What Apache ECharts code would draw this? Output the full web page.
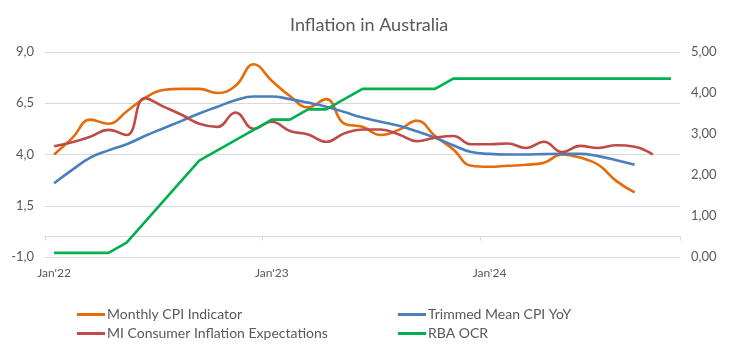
<!DOCTYPE html>
<html><head><meta charset="utf-8">
<script src="https://cdn.jsdelivr.net/npm/echarts@6/dist/echarts.min.js"></script>
<style>html,body{margin:0;padding:0;background:#fff}#c{width:747px;height:360px}</style>
</head><body><div id="c"></div>
<script>
const categories = ["Jan'22","Feb'22","Mar'22","Apr'22","May'22","Jun'22","Jul'22","Aug'22","Sep'22","Oct'22","Nov'22","Dec'22",
"Jan'23","Feb'23","Mar'23","Apr'23","May'23","Jun'23","Jul'23","Aug'23","Sep'23","Oct'23","Nov'23","Dec'23",
"Jan'24","Feb'24","Mar'24","Apr'24","May'24","Jun'24","Jul'24","Aug'24","Sep'24","Oct'24","Nov'24"];
const monthlyCPI = [4.0,4.8,5.7,5.5,6.1,6.75,7.15,7.2,7.2,7.0,7.35,8.4,7.6,6.85,6.3,6.7,5.5,5.35,4.95,5.2,5.65,4.9,4.25,3.45,3.4,3.45,3.5,3.6,4.0,3.85,3.5,2.7,2.15];
const trimmedMean = [2.6,3.25,3.85,4.2,4.5,4.9,5.27,5.63,6.0,6.33,6.65,6.83,6.83,6.7,6.53,6.33,6.07,5.8,5.6,5.4,5.13,4.82,4.45,4.12,4.03,4.0,4.0,4.02,4.03,4.03,3.92,3.72,3.5];
const miExpectations = [4.4,4.6,4.87,5.2,4.95,6.75,6.35,5.95,5.5,5.35,6.05,5.25,5.6,5.15,4.98,4.62,5.03,5.22,5.22,4.98,4.65,4.82,4.9,4.5,4.5,4.54,4.32,4.62,4.12,4.42,4.32,4.45,4.38,4.0];
const rbaOCR = [0.10,0.10,0.10,0.10,0.35,0.85,1.35,1.85,2.35,2.60,2.85,3.10,3.35,3.35,3.60,3.60,3.85,4.10,4.10,4.10,4.10,4.10,4.35,4.35,4.35,4.35,4.35,4.35,4.35,4.35,4.35,4.35,4.35,4.35,4.35];
const leftTicks = {min:-1, max:9, interval:2.5};
const rightTicks = {min:0, max:5, interval:1};

const FONT = 'Lato';
const GRAY = '#595959';
const chart = echarts.init(document.getElementById('c'), null, {renderer:'canvas'});
const lineSeries = (name, data, color, yIdx, smooth) => ({
  name, type:'line', data, yAxisIndex:yIdx, xAxisIndex:0, smooth: smooth ? 0.45 : false,
  showSymbol:false, symbol:'none', lineStyle:{color, width:2.6}, itemStyle:{color}, z: 3
});
chart.setOption({
  animation:false,
  title:{text:'Inflation in Australia', left:285, top:11,
    textStyle:{fontFamily:FONT, fontSize:18, fontWeight:'normal', color:GRAY}},
  grid:{left:45, right:67, top:52, bottom:103, containLabel:false},
  legend:[
    {data:['Monthly CPI Indicator','MI Consumer Inflation Expectations'], orient:'vertical', left:72, top:302,
     icon:'rect', itemWidth:28, itemHeight:3, itemGap:4,
     textStyle:{fontFamily:FONT, fontSize:14, color:GRAY, lineHeight:15, padding:[0,0,0,-3]}},
    {data:['Trimmed Mean CPI YoY','RBA OCR'], orient:'vertical', left:393, top:302,
     icon:'rect', itemWidth:28, itemHeight:3, itemGap:4,
     textStyle:{fontFamily:FONT, fontSize:14, color:GRAY, lineHeight:15, padding:[0,0,0,-3]}}
  ],
  xAxis:[
    {type:'category', data:categories, boundaryGap:true,
     axisLine:{show:true, onZero:true, onZeroAxisIndex:0, lineStyle:{color:'#d9d9d9', width:1}},
     axisTick:{show:true, interval:11, length:4, lineStyle:{color:'#d9d9d9'}},
     axisLabel:{show:false}, splitLine:{show:false}},
    {type:'category', data:categories, boundaryGap:true, position:'bottom',
     axisLine:{show:false, onZero:false}, axisTick:{show:false},
     axisLabel:{show:true, interval:11, margin:10, fontFamily:FONT, fontSize:12, color:GRAY},
     splitLine:{show:false}}
  ],
  yAxis:[
    {type:'value', min:leftTicks.min, max:leftTicks.max, interval:leftTicks.interval, position:'left',
     axisLine:{show:false}, axisTick:{show:false},
     axisLabel:{margin:11, fontFamily:FONT, fontSize:13, color:GRAY, formatter:v=>v.toFixed(1).replace('.',',')},
     splitLine:{show:true, lineStyle:{color:'#d9d9d9', width:1}}},
    {type:'value', min:rightTicks.min, max:rightTicks.max, interval:rightTicks.interval, position:'right',
     axisLine:{show:false}, axisTick:{show:false},
     axisLabel:{margin:11, fontFamily:FONT, fontSize:13, color:GRAY, formatter:v=>v.toFixed(2).replace('.',',')},
     splitLine:{show:false}}
  ],
  series:[
    lineSeries('Monthly CPI Indicator', monthlyCPI, '#E46C0A', 0, true),
    lineSeries('Trimmed Mean CPI YoY', trimmedMean, '#4A7EBD', 0, true),
    lineSeries('MI Consumer Inflation Expectations', miExpectations, '#BE4B48', 0, true),
    lineSeries('RBA OCR', rbaOCR, '#00B050', 1, false)
  ]
});
</script></body></html>
